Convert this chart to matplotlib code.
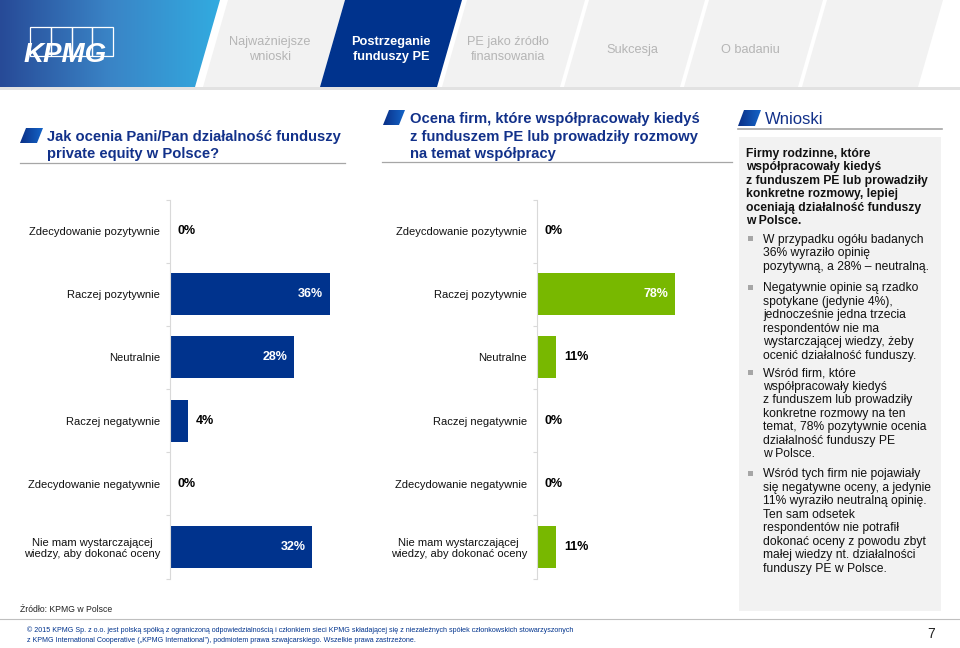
import matplotlib
matplotlib.use('Agg')
import matplotlib.pyplot as plt
import numpy as np
from matplotlib.patches import Polygon, Rectangle
from matplotlib.colors import LinearSegmentedColormap

plt.rcParams['font.family'] = ['Liberation Sans', 'DejaVu Sans']

W, H = 960, 648

# ---------------- data ----------------
categories_all = ["Zdecydowanie pozytywnie", "Raczej pozytywnie", "Neutralnie",
                  "Raczej negatywnie", "Zdecydowanie negatywnie",
                  "Nie mam wystarczającej\nwiedzy, aby dokonać oceny"]
values_all = [0, 36, 28, 4, 0, 32]

categories_pe = ["Zdeycdowanie pozytywnie", "Raczej pozytywnie", "Neutralne",
                 "Raczej negatywnie", "Zdecydowanie negatywnie",
                 "Nie mam wystarczającej\nwiedzy, aby dokonać oceny"]
values_pe = [0, 78, 11, 0, 0, 11]

tab_labels = ["Najważniejsze\nwnioski", "Postrzeganie\nfunduszy PE",
              "PE jako źródło\nfinansowania", "Sukcesja", "O badaniu"]

title_left = ["Jak ocenia Pani/Pan działalność funduszy", "private equity w Polsce?"]
title_mid = ["Ocena firm, które współpracowały kiedyś",
             "z funduszem PE lub prowadziły rozmowy", "na temat współpracy"]
title_right = "Wnioski"

lead_lines = ["Firmy rodzinne, które", "współpracowały kiedyś",
              "z funduszem PE lub prowadziły", "konkretne rozmowy, lepiej",
              "oceniają działalność funduszy", "w Polsce."]
bullets = [
    ["W przypadku ogółu badanych", "36% wyraziło opinię", "pozytywną, a 28% – neutralną."],
    ["Negatywnie opinie są rzadko", "spotykane (jedynie 4%),", "jednocześnie jedna trzecia",
     "respondentów nie ma", "wystarczającej wiedzy, żeby", "ocenić działalność funduszy."],
    ["Wśród firm, które", "współpracowały kiedyś", "z funduszem lub prowadziły",
     "konkretne rozmowy na ten", "temat, 78% pozytywnie ocenia", "działalność funduszy PE",
     "w Polsce."],
    ["Wśród tych firm nie pojawiały", "się negatywne oceny, a jedynie",
     "11% wyraziło neutralną opinię.", "Ten sam odsetek", "respondentów nie potrafił",
     "dokonać oceny z powodu zbyt", "małej wiedzy nt. działalności", "funduszy PE w Polsce."],
]
source_text = "Źródło: KPMG w Polsce"
copyright_lines = [
    "© 2015 KPMG Sp. z o.o. jest polską spółką z ograniczoną odpowiedzialnością i członkiem sieci KPMG składającej się z niezależnych spółek członkowskich stowarzyszonych",
    "z KPMG International Cooperative („KPMG International”), podmiotem prawa szwajcarskiego. Wszelkie prawa zastrzeżone.",
]
page_number = "7"

# ---------------- styles ----------------
KPMG_BLUE = '#00338d'
GREEN = '#78b800'
TITLE_COLOR = '#12318a'
TAB_GRAY = '#f2f2f2'
TAB_TEXT = '#b5b5b5'

fig = plt.figure(figsize=(9.6, 6.48), dpi=100)
fig.patch.set_facecolor('white')
ax0 = fig.add_axes([0, 0, 1, 1])
ax0.set_xlim(0, W)
ax0.set_ylim(H, 0)
ax0.axis('off')


def gradient_poly(ax, pts, c0, c1, c2=None, z=2):
    xs = [p[0] for p in pts]
    ys = [p[1] for p in pts]
    colors = [c0, c1] if c2 is None else [c0, c1, c2]
    cmap = LinearSegmentedColormap.from_list('g', colors)
    grad = np.linspace(0, 1, 256).reshape(1, -1)
    im = ax.imshow(grad, extent=[min(xs), max(xs), max(ys), min(ys)], aspect='auto',
                   cmap=cmap, zorder=z, interpolation='bicubic')
    poly = Polygon(pts, closed=True, facecolor='none', edgecolor='none', transform=ax.transData)
    ax.add_patch(poly)
    im.set_clip_path(poly)


# ---------------- header ----------------
HH = 87
SL = 25
gradient_poly(ax0, [(0, 0), (220, 0), (220 - SL, HH), (0, HH)], '#274a97', '#3a84c6', '#32abe0')
tab_bounds = [(228, 345), (345, 462), (467, 585), (589, 705), (709, 823), (827, 943)]
for i, (a, b) in enumerate(tab_bounds):
    col = KPMG_BLUE if i == 1 else TAB_GRAY
    ax0.add_patch(Polygon([(a, 0), (b, 0), (b - SL, HH), (a - SL, HH)], closed=True,
                          facecolor=col, edgecolor='none', zorder=2))
ax0.add_patch(Rectangle((0, HH), W, 3, facecolor='#e2e2e2', edgecolor='none', zorder=2))

tab_centers = [270, 391, 508, 632, 750]
for i, (lbl, cx) in enumerate(zip(tab_labels, tab_centers)):
    lines = lbl.split('\n')
    active = (i == 1)
    if len(lines) == 2:
        bls = [45, 60]
    else:
        bls = [53]
    for ln, bl in zip(lines, bls):
        ax0.text(cx, bl, ln, ha='center', va='baseline', fontsize=9.2,
                 color='white' if active else TAB_TEXT,
                 fontweight='bold' if active else 'normal', zorder=3)

# KPMG logo
for i in range(4):
    ax0.add_patch(Rectangle((30 + i * 20.8, 27), 20.8, 29, fill=False, edgecolor='white',
                            lw=0.9, zorder=3))
ax0.text(24, 62, "KPMG", ha='left', va='baseline', fontsize=20, fontweight='bold',
         fontstyle='italic', color='white', zorder=4)

# ---------------- section titles ----------------
def section_icon(x0, y0, x1, y1):
    gradient_poly(ax0, [(x0 + 6, y0), (x1, y0), (x1 - 6, y1), (x0, y1)], '#0a2f86', '#1565c8', z=3)

section_icon(20, 128, 43, 143)
for ln, bl in zip(title_left, [141.5, 158]):
    ax0.text(47, bl, ln, ha='left', va='baseline', fontsize=10.6, fontweight='bold',
             color=TITLE_COLOR)
ax0.plot([20, 345], [162.5, 162.5], color='#a6a6a6', lw=0.9)

section_icon(383, 110, 405, 125)
for ln, bl in zip(title_mid, [122.5, 140.5, 158]):
    ax0.text(410, bl, ln, ha='left', va='baseline', fontsize=10.6, fontweight='bold',
             color=TITLE_COLOR)
ax0.plot([382, 732], [161.5, 161.5], color='#a6a6a6', lw=0.9)

section_icon(738, 110, 761, 126)
ax0.text(765, 123.5, title_right, ha='left', va='baseline', fontsize=12, color=TITLE_COLOR)
ax0.plot([738, 942], [128.5, 128.5], color='#a6a6a6', lw=1.2)

# ---------------- conclusions box ----------------
ax0.add_patch(Rectangle((739, 137), 202, 474, facecolor='#f2f2f2', edgecolor='none', zorder=1))
LS = 13.45
for i, ln in enumerate(lead_lines):
    ax0.text(746, 157 + i * LS, ln, ha='left', va='baseline', fontsize=8.75,
             fontweight='bold', color='#111111', zorder=3)
bullet_starts = [243, 291.5, 376.5, 477.5]
for blines, b0 in zip(bullets, bullet_starts):
    ax0.add_patch(Rectangle((747.5, b0 - 7), 5, 5, facecolor='#a6a6a6', edgecolor='none', zorder=3))
    for i, ln in enumerate(blines):
        ax0.text(763, b0 + i * LS, ln, ha='left', va='baseline', fontsize=8.75,
                 color='#111111', zorder=3)

# ---------------- footer ----------------
ax0.text(20, 612, source_text, ha='left', va='baseline', fontsize=6.2, color='#222222')
ax0.plot([0, W], [619, 619], color='#bfbfbf', lw=0.8)
for ln, bl in zip(copyright_lines, [632.5, 642.5]):
    ax0.text(27, bl, ln, ha='left', va='baseline', fontsize=5.1, color=KPMG_BLUE)
ax0.text(931, 638, page_number, ha='center', va='baseline', fontsize=10, color='#222222')


# ---------------- bar charts ----------------
def px_axes(x0, y0, x1, y1):
    return fig.add_axes([x0 / W, 1 - y1 / H, (x1 - x0) / W, (y1 - y0) / H])


def draw_bars(x0, px_per_unit, cats, vals, color, inside_thresh=20):
    y_top, y_bot = 199.5, 578.5
    width_px = 220
    ax = px_axes(x0, y_top, x0 + width_px, y_bot)
    ax.set_facecolor('none')
    n = len(cats)
    y = np.arange(n)
    ax.barh(y, vals, height=0.667, color=color, zorder=2)
    ax.set_xlim(0, width_px / px_per_unit)
    ax.set_ylim(n - 0.5, -0.5)
    for s in ['top', 'right', 'bottom']:
        ax.spines[s].set_visible(False)
    ax.spines['left'].set_color('#d9d9d9')
    ax.spines['left'].set_linewidth(0.8)
    ax.set_xticks([])
    ax.set_yticks(y)
    ax.set_yticklabels(cats, fontsize=8, color='#111111', linespacing=1.1)
    for lbl in ax.get_yticklabels():
        lbl.set_multialignment('center')
    ax.set_yticks(np.arange(-0.5, n, 1.0), minor=True)
    ax.tick_params(axis='y', which='major', length=0, pad=7.2)
    ax.tick_params(axis='y', which='minor', length=3, color='#d9d9d9', width=0.8)
    for yi, v in zip(y, vals):
        if v >= inside_thresh:
            ax.annotate(f"{v}%", (v, yi), xytext=(-5, 0), textcoords='offset points',
                        ha='right', va='center', color='white', fontweight='bold', fontsize=9)
        else:
            ax.annotate(f"{v}%", (v, yi), xytext=(5.5, 0), textcoords='offset points',
                        ha='left', va='center', color='black', fontweight='bold', fontsize=9)
    return ax


draw_bars(170, 160 / 36, categories_all, values_all, KPMG_BLUE)
draw_bars(537, 138 / 78, categories_pe, values_pe, GREEN)

fig.savefig('out.png', dpi=100, facecolor='white')
